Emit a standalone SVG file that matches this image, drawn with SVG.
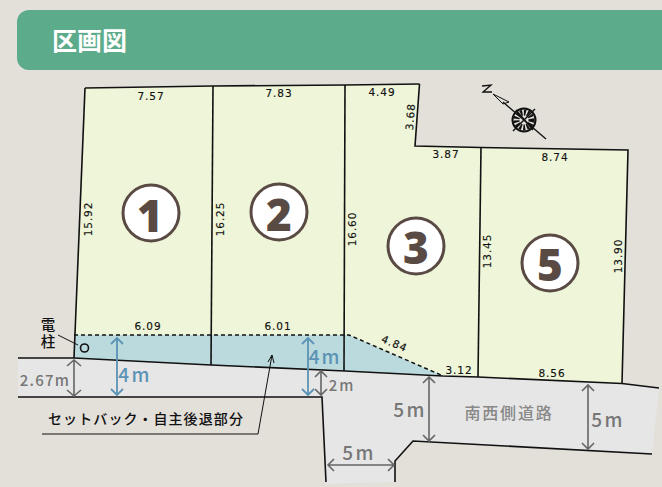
<svg xmlns="http://www.w3.org/2000/svg" width="662" height="487" viewBox="0 0 662 487">
<style>
.dim{font-family:"DejaVu Sans",sans-serif;font-size:10.5px;fill:#111;stroke:#111;stroke-width:.15;text-anchor:middle;letter-spacing:.9px}
.ln{fill:none;stroke:#111;stroke-width:1.6}
.lot{fill:#eef5d8}
.circ{fill:#fff;stroke:#5a4a44;stroke-width:3}
.num{font-family:"Open Sans","Noto Sans",sans-serif;font-weight:800;font-size:44px;fill:#5a4a44;text-anchor:middle}
.g{font-family:"Noto Sans CJK JP",sans-serif;font-size:19px;fill:#777;text-anchor:middle;font-weight:500;letter-spacing:2.5px}
.b{font-family:"Noto Sans CJK JP",sans-serif;font-size:19px;fill:#5b93b5;text-anchor:middle;font-weight:500;letter-spacing:2.5px}
.ag{fill:none;stroke:#666;stroke-width:1.6}
.ab{fill:none;stroke:#5b93b5;stroke-width:1.8}
</style>
<rect width="662" height="487" fill="#e3dfd9"/>
<g id="banner"><rect x="17" y="10" width="670" height="60" rx="12" fill="#5cab8a"/>
<text x="52" y="50" font-family="'Noto Sans CJK JP',sans-serif" font-weight="700" font-size="25" fill="#fff">区画図</text></g>
<g id="road"><polygon points="18,358 74,358 211,365 345,371 443,376 478,377 622,383.5 659,388 652,454 413,441 395,461 395,482 326,484 322,397 18,397" fill="#e6e6e6"/>
<text class="g" x="509" y="419" style="font-size:16px;letter-spacing:1.800px;fill:#888">南西側道路</text></g>
<g id="setback"><polygon points="74,335 349,335 441,375 345,371 211,365 74,358" fill="#bbdade"/></g>
<g id="lot1"><polygon class="lot" points="85,88 213,86 211,335 74,335"/>
<line class="ln" x1="85" y1="88" x2="213" y2="86"/>
<circle class="circ" cx="151" cy="213" r="28"/><text class="num" x="150" y="232">1</text>
<text class="dim" x="151" y="100">7.57</text><text class="dim" transform="translate(92,219) rotate(-90)">15.92</text><text class="dim" x="148" y="330">6.09</text></g>
<g id="lot2"><polygon class="lot" points="213,86 345,85 344,335 211,335"/>
<line class="ln" x1="213" y1="86" x2="345" y2="85"/>
<circle class="circ" cx="279" cy="212" r="28"/><text class="num" x="279" y="231">2</text>
<text class="dim" x="279" y="97">7.83</text><text class="dim" transform="translate(224,219) rotate(-90)">16.25</text><text class="dim" x="278" y="330">6.01</text></g>
<g id="lot3"><polygon class="lot" points="345,85 419.5,84 415,146 481,147.5 478,377 441,375 349,335 344,335"/>
<circle class="circ" cx="416" cy="246" r="28"/><text class="num" x="416" y="264">3</text>
<text class="dim" x="382" y="96">4.49</text><text class="dim" transform="translate(414,117) rotate(-86)">3.68</text><text class="dim" x="446" y="158">3.87</text><text class="dim" transform="translate(356,229) rotate(-90)">16.60</text><text class="dim" transform="translate(393,347) rotate(23)">4.84</text><text class="dim" x="459" y="374">3.12</text></g>
<g id="lot5"><polygon class="lot" points="481,147.5 628,150 622,383.5 478,377"/>
<circle class="circ" cx="550" cy="263" r="28"/><text class="num" x="550" y="281">5</text>
<text class="dim" x="555" y="161">8.74</text><text class="dim" transform="translate(491,251) rotate(-90)">13.45</text><text class="dim" transform="translate(622,256) rotate(-90)">13.90</text><text class="dim" x="552" y="377">8.56</text></g>
<g id="connectors">
<polyline class="ln" points="419.5,84 415,146 481,147.5 628,150 622,383.5"/>
<line class="ln" x1="85" y1="88" x2="74" y2="358"/>
<line class="ln" x1="213" y1="86" x2="211" y2="365"/>
<line class="ln" x1="345" y1="85" x2="344" y2="371"/>
<line class="ln" x1="345" y1="85" x2="419.5" y2="84"/>
<line class="ln" x1="481" y1="147.5" x2="478" y2="377"/>
<polyline class="ln" points="18,358 74,358 211,365 345,371 443,376 478,377 622,383.5 659,388"/>
<polyline class="ln" points="18,397 322,397 326,482"/>
<polyline class="ln" points="652,454 413,441 395,461 395,482"/>
<polyline points="74,335 349,335 441,375" fill="none" stroke="#111" stroke-width="1.500" stroke-dasharray="4 3"/>
<path class="ag" d="M74 360V396M67 366L74 360L81 366M67 390L74 396L81 390"/>
<path class="ab" d="M117 338V395M111 344L117 338L123 344M111 389L117 395L123 389"/>
<path class="ab" d="M308 338V395M302 344L308 338L314 344M302 389L308 395L314 389"/>
<path class="ag" d="M321 371V395M315 377L321 371L327 377M315 389L321 395L327 389"/>
<path class="ag" d="M429 377V441M423 383L429 377L435 383M423 435L429 441L435 435"/>
<path class="ag" d="M588 385V449M582 391L588 385L594 391M582 443L588 449L594 443"/>
<path class="ag" d="M328 465H394M334 459L328 465L334 471M388 459L394 465L388 471"/>
<path d="M58 335L78 345" fill="none" stroke="#111" stroke-width="1"/>
<polyline points="42,434 258,434 272,355" fill="none" stroke="#111" stroke-width="1"/>
<path d="M268 362L272 355L274 363" fill="none" stroke="#111"/>
</g>
<g id="pole"><circle cx="84.500" cy="348" r="4" fill="none" stroke="#111" stroke-width="1.600"/>
<text x="48" y="317" writing-mode="vertical-rl" letter-spacing="2.500" font-family="'Noto Sans CJK JP',sans-serif" font-weight="500" font-size="14.500" fill="#111">電柱</text></g>
<g id="labels">
<text class="g" x="45" y="386" style="font-size:15px;letter-spacing:1.200px">2.67m</text>
<text class="b" x="135" y="382">4m</text>
<text class="b" x="325" y="364" style="letter-spacing:2px">4m</text>
<text class="g" x="342" y="391" style="font-size:15px;letter-spacing:2px">2m</text>
<text class="g" x="410" y="417">5m</text>
<text class="g" x="608" y="427">5m</text>
<text class="g" x="359" y="460">5m</text>
<text x="146" y="424" font-family="'Noto Sans CJK JP',sans-serif" font-weight="500" font-size="14" letter-spacing="1.100" fill="#111" text-anchor="middle">セットバック・自主後退部分</text>
</g>
<g id="compass" fill="none" stroke="#111">
<line x1="503" y1="102" x2="546" y2="139" stroke-width="1.300"/>
<path d="M493 94L503 104L509 102Z" stroke-width="1"/>
<path d="M482 86L491 85L483 92L492 92" stroke-width="1.300"/>
<circle cx="524" cy="120" r="11.500" stroke-width="2"/><circle cx="524" cy="120" r="7.500" stroke-width="6" stroke-dasharray="2 1.500"/>
<line x1="513" y1="131" x2="535" y2="109" stroke-width="1.500"/><line x1="516" y1="110" x2="533" y2="130" stroke-width="1.500"/>
</g>
</svg>
